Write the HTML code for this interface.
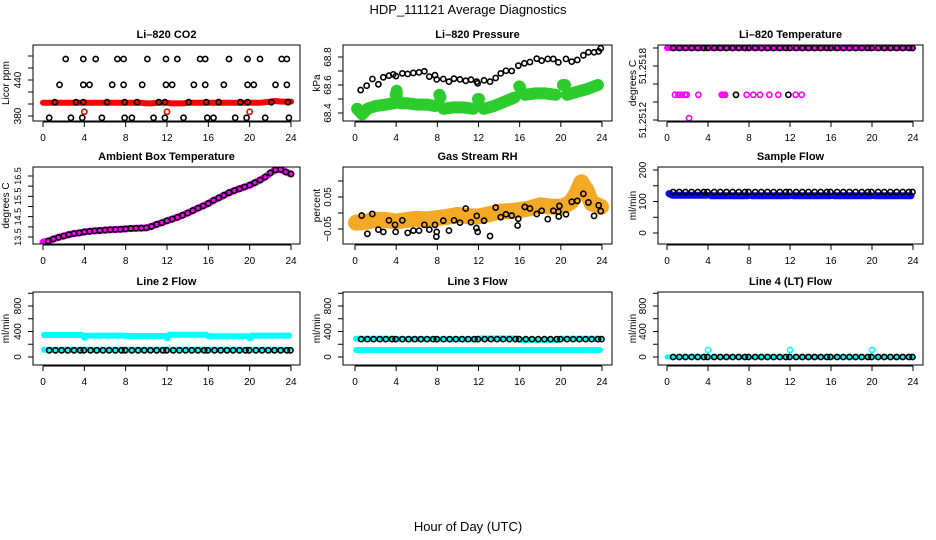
<!DOCTYPE html>
<html><head><meta charset="utf-8"><style>
html,body{margin:0;padding:0;background:#fff}
svg{display:block}
text{font-family:"Liberation Sans",Arial,sans-serif}
</style></head><body>
<svg id="fig" width="936" height="540" viewBox="0 0 936 540" xmlns="http://www.w3.org/2000/svg">
<text x="468" y="14" text-anchor="middle" font-size="13">HDP_111121  Average Diagnostics</text>
<text x="468" y="531" text-anchor="middle" font-size="13">Hour of Day (UTC)</text>
</svg>
<script>
// ---------- data ----------
const xTicks=[0,4,8,12,16,20,24];
const regHours=[0.6,1.2,1.8,2.4,3.0,3.6,3.95,4.6,5.2,5.8,6.4,7.0,7.6,7.95,8.6,9.2,9.8,10.4,11.0,11.6,11.95,12.6,13.2,13.8,14.4,15.0,15.6,15.95,16.6,17.2,17.8,18.4,19.0,19.6,19.95,20.6,21.2,21.8,22.4,23.0,23.6,23.95];
const halfHours=[0,0.5,1,1.5,2,2.5,3,3.5,4,4.5,5,5.5,6,6.5,7,7.5,8,8.5,9,9.5,10,10.5,11,11.5,12,12.5,13,13.5,14,14.5,15,15.5,16,16.5,17,17.5,18,18.5,19,19.5,20,20.5,21,21.5,22,22.5,23,23.5,24];
// CO2
const co2BlackHours=[2.2,3.9,5.1,7.2,7.8,10.1,11.9,13.0,15.2,15.7,18.0,19.8,21.0,23.1,23.6, 1.6,3.9,4.5,6.7,7.8,9.6,11.9,12.5,14.6,15.7,17.5,19.8,20.4,22.5,23.6, 1.15,3.2,3.9,6.2,7.9,9.1,11.2,11.8,14.1,15.8,17.0,19.1,19.8,22.1,23.7, 0.6,2.7,3.8,5.7,7.9,8.6,10.7,11.8,13.6,15.9,16.5,18.6,19.7,21.5,23.8];
const co2BlackVals=[475,475,475,475,475,475,475,475,475,475,475,475,475,475,475, 432,432,432,432,432,432,432,432,432,432,432,432,432,432,432, 403,403,403,403,403,403,403,403,403,403,403,403,403,403,403, 377,377,377,377,377,377,377,377,377,377,377,377,377,377,377];
const co2RedVals=[402,402,402,402,402,402,402,402,402,402,402,402,402,402,402,402,402,402,402,402,401,401,402,402,402,401,401,401,402,402,402,402,402,402,402,402,402,402,402,402,402,402,402,403,404,405,404,404,404];
const co2RedOutHours=[4,12,20];
const co2RedOutVals=[387,387,387];
// Pressure
const presBlackHours=[0.55,1.13,1.69,2.27,2.75,3.3,3.72,3.98,4.6,5.12,5.67,6.22,6.74,7.22,7.77,7.94,8.58,9.13,9.62,10.2,10.76,11.27,11.83,11.92,12.54,13.12,13.67,14.16,14.67,15.23,15.87,16.46,17.0,17.66,18.14,18.73,19.27,19.76,20.5,21.06,21.6,22.19,22.68,23.23,23.68,23.88];
const presBlackVals=[68.564,68.595,68.643,68.605,68.655,68.667,68.676,68.664,68.683,68.679,68.686,68.69,68.698,68.66,68.67,68.64,68.643,68.624,68.645,68.64,68.63,68.638,68.624,68.612,68.633,68.624,68.65,68.683,68.702,68.7,68.738,68.755,68.764,68.788,68.774,68.786,68.786,68.762,68.786,68.767,68.779,68.812,68.834,68.834,68.84,68.862];
const presGreenHours=[0.2,0.7,1.2,2,3,3.8,null,3.95,4.05,4.05,null,4.4,5,6,7,7.8,null,8.2,8.3,null,8.6,9.5,10.5,11.5,null,11.95,12.05,null,12.5,13.5,14.5,15.5,null,15.95,16.05,null,16.5,17.5,18.5,19.5,null,20.2,20.4,null,20.6,21.5,22.5,23.6];
const presGreenVals=[68.43,68.39,68.43,68.45,68.46,68.47,null,68.53,68.56,68.5,null,68.47,68.47,68.46,68.46,68.45,null,68.53,68.51,null,68.43,68.44,68.44,68.43,null,68.5,68.5,null,68.43,68.45,68.48,68.51,null,68.59,68.58,null,68.53,68.54,68.54,68.53,null,68.6,68.6,null,68.53,68.55,68.57,68.6];
// Li-820 temperature
const tempTopVal=[51.2520];
const tempMidHours=[0.78,1.1,1.43,1.76,1.92,3.06,5.34,5.5,5.66,7.77,8.42,9.07,9.98,10.86,12.55,13.14];
const tempMidVal=[51.25148];
const tempMidBlackHours=[6.73,11.84];
const tempLowHours=[2.15];
const tempLowVals=[51.25122];
// Ambient
const ambVals=[13.25,13.3,13.4,13.48,13.55,13.62,13.67,13.7,13.75,13.78,13.8,13.82,13.84,13.86,13.87,13.88,13.9,13.92,13.93,13.94,13.95,14.02,14.12,14.2,14.3,14.38,14.47,14.57,14.68,14.8,14.92,15.03,15.15,15.3,15.42,15.55,15.68,15.78,15.87,15.96,16.05,16.17,16.3,16.45,16.65,16.8,16.82,16.7,16.6];
// RH
const rhBandHours=[0.1,1,2,3,4,5,6,7,8,9,10,11,12,13,14,15,16,17,18,19,20,20.5,21,21.5,22,22.5,23,23.5,23.9];
const rhBandVals=[-0.03,-0.028,-0.021,-0.022,-0.027,-0.022,-0.018,-0.02,-0.016,-0.012,-0.006,-0.01,-0.011,-0.004,0.004,0.006,0.009,0.015,0.024,0.02,0.019,0.025,0.035,0.06,0.096,0.07,0.03,0.025,0.019];
const rhBlackHours=[0.65,1.2,1.68,2.27,2.75,3.3,3.89,3.95,4.6,5.12,5.67,6.22,6.74,7.22,7.77,7.94,7.9,8.58,9.13,9.62,10.2,10.76,11.27,11.83,11.8,11.92,12.54,13.12,13.67,14.16,14.67,15.23,15.87,15.8,16.5,17.0,17.66,18.14,18.73,19.27,19.76,19.86,19.8,20.5,21.06,21.6,22.19,22.68,23.23,23.68,23.88];
const rhBlackVals=[-0.008,-0.065,-0.003,-0.052,-0.059,-0.023,-0.037,-0.059,-0.023,-0.062,-0.055,-0.055,-0.037,-0.052,-0.037,-0.059,-0.074,-0.024,-0.055,-0.023,-0.03,0.014,-0.029,-0.009,-0.047,-0.059,-0.024,-0.072,0.017,-0.013,-0.004,-0.008,-0.018,-0.039,0.019,0.014,-0.003,0.007,-0.019,0.007,0.004,0.022,-0.011,-0.004,0.035,0.038,0.06,0.033,-0.009,0.024,0.006];
// Sample flow
const sampleBlueHours=[0.2,0.5,3.9,null,4.3,7.9,null,8.3,11.9,null,12.3,15.9,null,16.3,19.9,null,20.3,23.8];
const sampleBlueVals=[125,120,120,null,118,118,null,118,118,null,118,118,null,118,118,null,118,118];
const sampleBlackVal=[130];
// Line 2
const line2UpHours=[0.1,3.8,null,4,4.05,null,4.2,7.8,null,8,11.8,null,12,12.05,null,12.2,15.8,null,16,19.8,null,20,20.05,null,20.2,23.8];
const line2UpVals=[345,345,null,300,300,null,335,335,null,330,330,null,295,295,null,350,350,null,325,325,null,290,290,null,335,335];
const line2LowHours=[0.1,23.8];
const line2LowVals=[115,115];
const line2BlackVal=[105];
// Line 3
const line3LowHours=[0.1,23.8];
const line3LowVals=[110,110];
const line3UpHours=[0.1,3.8,null,4.1,7.8,null,8.1,11.8,null,12.1,15.8,null,16.1,19.8,null,20.1,23.8];
const line3UpVals=[285,285,null,280,280,null,278,278,null,290,290,null,268,268,null,285,285];
const line3BlackVal=[280];
// Line 4
const line4CyanHours=[0,23.9];
const line4CyanVals=[0,0];
const line4OutHours=[4,12,20];
const line4OutVals=[110,110,110];
const line4BlackVal=[0];

// ---------- drawing ----------
const NS="http://www.w3.org/2000/svg";
const svg=document.getElementById('fig');
function mk(tag,attrs,parent){const e=document.createElementNS(NS,tag);for(const k in attrs)e.setAttribute(k,attrs[k]);(parent||svg).appendChild(e);return e;}
const cols=[{L:33,R:300,x0:43,x24:291,ylabX:9},{L:343,R:612,x0:355,x24:602,ylabX:320},{L:658,R:923,x0:667,x24:913,ylabX:636}];
const rows=[{T:45,B:121},{T:167,B:244},{T:292,B:365}];
function makePanel(c,r,o){
  const col=cols[c],row=rows[r];
  const g=mk('g',{});
  
  
  const p={g:g,sx:h=>col.x0+(h/24)*(col.x24-col.x0),sy:v=>o.pA+(v-o.vA)*(o.pB-o.pA)/(o.vB-o.vA),col:col,row:row};
  const t=mk('text',{x:(col.L+col.R)/2,y:row.T-7,'text-anchor':'middle','font-size':11,'font-weight':'bold'},g);
  t.textContent=o.title;
  
  
  const yl=mk('text',{x:col.ylabX,y:(row.T+row.B)/2,'text-anchor':'middle','font-size':10,transform:'rotate(-90 '+col.ylabX+' '+((row.T+row.B)/2)+')'},g);
  yl.textContent=o.ylab;
  
  
  const ty=o.yticks.map(p.sy);
  const ax=mk('path',{d:'M'+col.L+' '+Math.min(...ty)+' V'+Math.max(...ty)+ty.map(y=>' M'+col.L+' '+y+' h-5').join('')+' M'+col.x0+' '+(row.B+1)+' H'+col.x24+xTicks.map(h=>' M'+p.sx(h)+' '+(row.B+1)+' v5').join(''),stroke:'#000','stroke-width':1,fill:'none'},g);
  
  
  o.ylabels.forEach(function(lb){
    const y=p.sy(lb[0]),x=col.L-12;
    const tl=mk('text',{x:x,y:y,'text-anchor':'middle','font-size':o.yfs||10,transform:'rotate(-90 '+x+' '+y+')'},g);
    tl.textContent=lb[1];
    
    
  });
  xTicks.forEach(function(h){
    const tl=mk('text',{x:p.sx(h),y:row.B+20,'text-anchor':'middle','font-size':10},g);
    tl.textContent=h;
    
    
  });
  const clip=mk('clipPath',{id:'clip'+c+r},g);
  mk('rect',{x:col.L,y:row.T,width:col.R-col.L,height:row.B-row.T},clip);
  p.plot=mk('g',{'clip-path':'url(#clip'+c+r+')'},g);
  
  
  const box=mk('rect',{x:col.L,y:row.T,width:col.R-col.L,height:row.B-row.T,fill:'none',stroke:'#000','stroke-width':1},g);
  
  
  return p;
}
function pts(p,xs,ys,color,r,sw,name){
  xs.forEach(function(h,i){
    const v=ys.length===1?ys[0]:ys[i];
    const e=mk('circle',{cx:p.sx(h),cy:p.sy(v),r:r,fill:'none',stroke:color,'stroke-width':sw},p.plot);
    
    
  });
}
function band(p,xs,ys,color,w,name){
  let d='',start=true;
  xs.forEach(function(h,i){
    if(h===null){start=true;return;}
    const x=p.sx(h),y=p.sy(ys[i]);
    d+=(start?'M':'L')+x.toFixed(1)+' '+y.toFixed(1)+' ';
    if(start)d+='L'+(x+0.1).toFixed(1)+' '+y.toFixed(1)+' ';
    start=false;
  });
  const e=mk('path',{d:d,fill:'none',stroke:color,'stroke-width':w,'stroke-linecap':'round','stroke-linejoin':'round'},p.plot);
  
  
}
const BR=2.6,BW=1.6;

// Panel 1: CO2
let p=makePanel(0,0,{name:'panel-co2',title:'Li\u2013820 CO2',ylab:'Licor ppm',vA:380,pA:116,vB:440,pB:80,yticks:[380,400,420,440,460,480],ylabels:[[380,'380'],[440,'440']]});
band(p,halfHours,co2RedVals,'#ff0000',6,'co2-red-series');
pts(p,co2RedOutHours,co2RedOutVals,'#ff0000',BR,BW,'co2-red-outlier');
pts(p,co2BlackHours,co2BlackVals,'#000',BR,BW,'co2-black-point');

// Panel 2: Pressure
p=makePanel(1,0,{name:'panel-pressure',title:'Li\u2013820 Pressure',ylab:'kPa',vA:68.4,pA:113,vB:68.8,pB:57,yticks:[68.4,68.5,68.6,68.7,68.8],ylabels:[[68.4,'68.4'],[68.6,'68.6'],[68.8,'68.8']]});
band(p,presGreenHours,presGreenVals,'#2ccc2c',12,'pressure-green-series');
pts(p,presBlackHours,presBlackVals,'#000',BR,BW,'pressure-black-point');

// Panel 3: Li-820 Temperature
p=makePanel(2,0,{name:'panel-li820-temperature',title:'Li\u2013820 Temperature',ylab:'degrees C',vA:51.2512,pA:120,vB:51.2518,pB:66,yticks:[51.2512,51.2514,51.2516,51.2518,51.2520],ylabels:[[51.2512,'51.2512'],[51.2518,'51.2518']]});
band(p,[0,24],[tempTopVal[0],tempTopVal[0]],'#ff00ff',6,'temp-magenta-series');
pts(p,tempMidHours,tempMidVal,'#ff00ff',BR,BW,'temp-magenta-point');
pts(p,tempLowHours,tempLowVals,'#ff00ff',BR,BW,'temp-magenta-point');
pts(p,tempMidBlackHours,tempMidVal,'#000',BR,BW,'temp-black-point');
pts(p,regHours,tempTopVal,'#000',BR,BW,'temp-black-point');

// Panel 4: Ambient
p=makePanel(0,1,{name:'panel-ambient-temperature',title:'Ambient Box Temperature',ylab:'degrees C',yfs:9,vA:13.5,pA:237,vB:16.5,pB:176,yticks:[13.5,14,14.5,15,15.5,16,16.5],ylabels:[[13.5,'13.5'],[14.5,'14.5'],[15.5,'15.5'],[16.5,'16.5']]});
band(p,halfHours,ambVals,'#ff00ff',7,'ambient-magenta-series');
pts(p,halfHours.slice(1),ambVals.slice(1),'#000',BR,BW,'ambient-black-point');

// Panel 5: RH
p=makePanel(1,1,{name:'panel-gas-rh',title:'Gas Stream RH',ylab:'percent',vA:-0.05,pA:229,vB:0.05,pB:197,yticks:[-0.05,0,0.05,0.1],ylabels:[[-0.05,'\u22120.05'],[0.05,'0.05']]});
band(p,rhBandHours,rhBandVals,'#f3a826',16,'rh-orange-series');
pts(p,rhBlackHours,rhBlackVals,'#000',BR,BW,'rh-black-point');

// Panel 6: Sample Flow
p=makePanel(2,1,{name:'panel-sample-flow',title:'Sample Flow',ylab:'ml/min',vA:0,pA:233,vB:200,pB:170,yticks:[0,50,100,150,200],ylabels:[[0,'0'],[100,'100'],[200,'200']]});
band(p,sampleBlueHours,sampleBlueVals,'#0a0aee',7,'sample-blue-series');
pts(p,regHours,sampleBlackVal,'#000',BR,BW,'sample-black-point');

// Panel 7: Line 2
p=makePanel(0,2,{name:'panel-line2-flow',title:'Line 2 Flow',ylab:'ml/min',vA:0,pA:357,vB:800,pB:306,yticks:[0,200,400,600,800,1000],ylabels:[[0,'0'],[400,'400'],[800,'800']]});
band(p,line2UpHours,line2UpVals,'#00ffff',6,'line2-cyan-upper');
band(p,line2LowHours,line2LowVals,'#00ffff',6,'line2-cyan-lower');
pts(p,regHours,line2BlackVal,'#000',BR,BW,'line2-black-point');

// Panel 8: Line 3
p=makePanel(1,2,{name:'panel-line3-flow',title:'Line 3 Flow',ylab:'ml/min',vA:0,pA:357,vB:800,pB:306,yticks:[0,200,400,600,800,1000],ylabels:[[0,'0'],[400,'400'],[800,'800']]});
band(p,line3LowHours,line3LowVals,'#00ffff',6,'line3-cyan-lower');
band(p,line3UpHours,line3UpVals,'#00ffff',6,'line3-cyan-upper');
pts(p,regHours,line3BlackVal,'#000',BR,BW,'line3-black-point');

// Panel 9: Line 4
p=makePanel(2,2,{name:'panel-line4-flow',title:'Line 4 (LT) Flow',ylab:'ml/min',vA:0,pA:357,vB:800,pB:306,yticks:[0,200,400,600,800,1000],ylabels:[[0,'0'],[400,'400'],[800,'800']]});
band(p,line4CyanHours,line4CyanVals,'#00ffff',5,'line4-cyan-series');
pts(p,line4OutHours,line4OutVals,'#00ffff',BR,BW,'line4-cyan-outlier');
pts(p,regHours,line4BlackVal,'#000',BR,BW,'line4-black-point');
</script>
</body></html>
